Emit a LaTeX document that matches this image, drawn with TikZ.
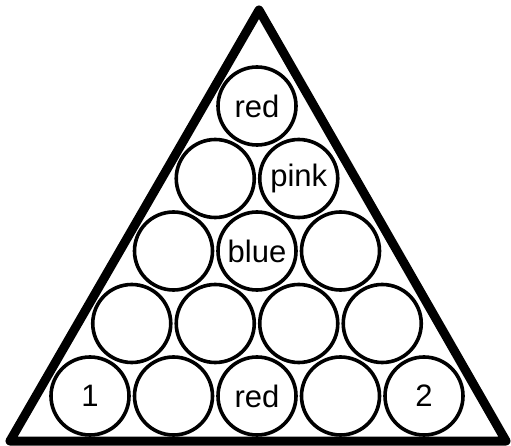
\documentclass[tikz,border=0pt]{standalone}
\usepackage{fontspec}
\setmainfont{Liberation Sans}
\usetikzlibrary{positioning}
\tikzset{
  ball/.style={circle,draw=black,line width=3.6pt,minimum size=78pt,inner sep=0pt,
    font=\fontsize{31}{36}\selectfont},
  rack/.style={draw=black,line width=9pt,line join=round},
}
\begin{document}
\begin{tikzpicture}[x=1pt,y=-1pt]
    \useasboundingbox (0,0) rectangle (511,446);
    % the frame
    \coordinate (apex) at (259,10);
    \coordinate (bl) at (10,441);
    \coordinate (br) at (506,441);
    \draw[rack] (apex) -- (br) -- (bl) -- cycle;
    % fifteen balls, row by row
    \foreach \r/\c/\t in {1/1/red,2/1/,2/2/pink,3/1/,3/2/blue,3/3/,
      4/1/,4/2/,4/3/,4/4/,5/1/1,5/2/,5/3/red,5/4/,5/5/2}{
      \node[ball] (b\r-\c) at ({257+(\c-(\r+1)/2)*83.5},{106+(\r-1)*72.5}) {\t};
    }
  \end{tikzpicture}
\end{document}
